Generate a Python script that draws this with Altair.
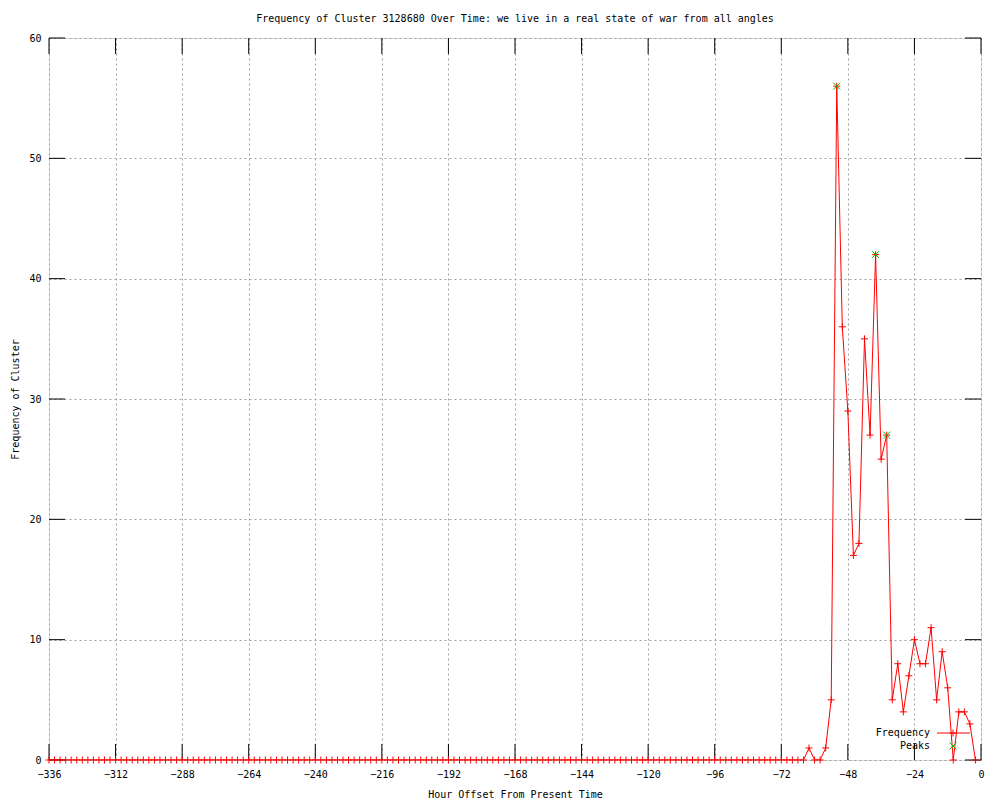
import altair as alt
import pandas as pd

# ---- data ----
hours = list(range(-336, -1, 2))  # sampling every 2 hours, -336 .. -2
freq = [
    0, 0, 0, 0, 0, 0, 0, 0, 0, 0, 0, 0, 0, 0, 0, 0, 0, 0, 0, 0,
    0, 0, 0, 0, 0, 0, 0, 0, 0, 0, 0, 0, 0, 0, 0, 0, 0, 0, 0, 0,
    0, 0, 0, 0, 0, 0, 0, 0, 0, 0, 0, 0, 0, 0, 0, 0, 0, 0, 0, 0,
    0, 0, 0, 0, 0, 0, 0, 0, 0, 0, 0, 0, 0, 0, 0, 0, 0, 0, 0, 0,
    0, 0, 0, 0, 0, 0, 0, 0, 0, 0, 0, 0, 0, 0, 0, 0, 0, 0, 0, 0,
    0, 0, 0, 0, 0, 0, 0, 0, 0, 0, 0, 0, 0, 0, 0, 0, 0, 0, 0, 0,
    0, 0, 0, 0, 0, 0, 0, 0, 0, 0, 0, 0, 0, 0, 0, 0, 0,
    1, 0, 0, 1, 5, 56, 36, 29, 17, 18, 35, 27, 42, 25, 27,
    5, 8, 4, 7, 10, 8, 8, 11, 5, 9, 6, 0, 4, 4, 3, 0,
]
peak_hours = [-52, -38, -34]
peak_values = [56, 42, 27]

x_ticks = [-336, -312, -288, -264, -240, -216, -192, -168, -144, -120, -96, -72, -48, -24, 0]
y_ticks = [0, 10, 20, 30, 40, 50, 60]
legend_labels = ["Frequency", "Peaks"]

df = pd.DataFrame({"hour": hours, "freq": freq})
peaks = pd.DataFrame({"hour": peak_hours, "freq": peak_values})
xt = pd.DataFrame({"t": x_ticks})
yt = pd.DataFrame({"t": y_ticks})

W, H = 932, 722
FONT = "DejaVu Sans Mono"
RED = "#ff0000"
GREEN = "#00c000"
PLUS = "M-1,0L1,0M0,-1L0,1"
CROSS = "M-1,-1L1,1M-1,1L1,-1"

xscale = alt.Scale(domain=[-336, 0], nice=False, zero=False)
yscale = alt.Scale(domain=[0, 60], nice=False)

xaxis = alt.Axis(values=x_ticks, title="Hour Offset From Present Time", grid=True,
                 gridDash=[2, 3], gridColor="#a0a0a0", ticks=False, domain=False,
                 labelPadding=9, titlePadding=10, labelFont=FONT, titleFont=FONT,
                 labelFontSize=10, titleFontSize=10, titleFontWeight="normal",
                 labelColor="black", titleColor="black", labelFlush=False)
yaxis = alt.Axis(values=y_ticks, title="Frequency of Cluster", grid=True,
                 gridDash=[2, 3], gridColor="#a0a0a0", ticks=False, domain=False,
                 labelPadding=8, titlePadding=8, labelFont=FONT, titleFont=FONT,
                 labelFontSize=10, titleFontSize=10, titleFontWeight="normal",
                 labelColor="black", titleColor="black", labelFlush=False)

base = alt.Chart(df)

line = base.mark_line(color=RED, strokeWidth=1, clip=True).encode(
    x=alt.X("hour:Q", scale=xscale, axis=xaxis),
    y=alt.Y("freq:Q", scale=yscale, axis=yaxis),
)
pts = base.mark_point(shape=PLUS, size=49, color=RED, filled=False, strokeWidth=1, opacity=1).encode(
    x=alt.X("hour:Q", scale=xscale), y=alt.Y("freq:Q", scale=yscale)
)
pk = alt.Chart(peaks).mark_point(shape=CROSS, size=49, color=GREEN, filled=False, strokeWidth=1, opacity=1).encode(
    x=alt.X("hour:Q", scale=xscale), y=alt.Y("freq:Q", scale=yscale)
)

# inward ticks on all four sides
xb = alt.Chart(xt).mark_rule(color="black", strokeWidth=1).encode(
    x=alt.X("t:Q", scale=xscale), y=alt.value(H), y2=alt.value(H - 16))
xtop = alt.Chart(xt).mark_rule(color="black", strokeWidth=1).encode(
    x=alt.X("t:Q", scale=xscale), y=alt.value(0), y2=alt.value(16))
yl = alt.Chart(yt).mark_rule(color="black", strokeWidth=1).encode(
    y=alt.Y("t:Q", scale=yscale), x=alt.value(0), x2=alt.value(16))
yr = alt.Chart(yt).mark_rule(color="black", strokeWidth=1).encode(
    y=alt.Y("t:Q", scale=yscale), x=alt.value(W), x2=alt.value(W - 16))

# legend (gnuplot style, inside bottom-right)
def leg_label(i, ypix):
    return alt.Chart(pd.DataFrame({"label": [legend_labels[i]]})).mark_text(
        font=FONT, fontSize=10, align="right", baseline="middle", color="black"
    ).encode(text="label:N", x=alt.value(881), y=alt.value(ypix))

leg_t1 = leg_label(0, 695)
leg_t2 = leg_label(1, 708)
leg_line = alt.Chart(pd.DataFrame({"label": legend_labels[:1]})).mark_rule(color=RED, strokeWidth=1).encode(
    x=alt.value(888), x2=alt.value(921), y=alt.value(695))
leg_plus = alt.Chart(pd.DataFrame({"label": legend_labels[:1]})).mark_point(
    shape=PLUS, size=49, color=RED, filled=False, strokeWidth=1, opacity=1).encode(
    x=alt.value(904), y=alt.value(695))
leg_x = alt.Chart(pd.DataFrame({"label": legend_labels[1:]})).mark_point(
    shape=CROSS, size=49, color=GREEN, filled=False, strokeWidth=1, opacity=1).encode(
    x=alt.value(904), y=alt.value(708))

chart = alt.layer(line, xb, xtop, yl, yr, pts, pk, leg_t1, leg_t2, leg_line, leg_plus, leg_x).properties(
    width=W, height=H,
    title=alt.TitleParams("Frequency of Cluster 3128680 Over Time: we live in a real state of war from all angles",
                          font=FONT, fontSize=10, fontWeight="normal", color="black",
                          anchor="middle", offset=9),
    autosize=alt.AutoSizeParams(type="none"),
    padding={"left": 41, "top": 30, "right": 10, "bottom": 40},
).configure_view(stroke="black", strokeWidth=1).configure(background="white")

chart.save("out.html", embed_options={"renderer": "svg", "actions": False})
